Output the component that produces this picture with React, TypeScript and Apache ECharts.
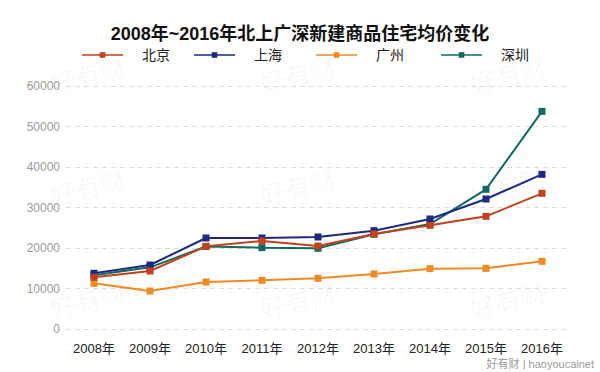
import React, { useEffect, useRef } from "react";
import * as echarts from "echarts";

const categories = ["2008年", "2009年", "2010年", "2011年", "2012年", "2013年", "2014年", "2015年", "2016年"];
const beijing = [12760, 14320, 20410, 21730, 20490, 23450, 25600, 27820, 33500];
const shanghai = [13750, 15800, 22470, 22470, 22720, 24280, 27160, 32100, 38190];
const guangzhou = [11280, 9380, 11600, 12020, 12510, 13580, 14900, 14980, 16710];
const shenzhen = [13300, 15230, 20370, 20080, 19920, 23400, 25900, 34490, 53740];
const yTicks = [0, 10000, 20000, 30000, 40000, 50000, 60000];

const names = ["北京", "上海", "广州", "深圳"];
const colors = ["#c1421b", "#1c2a80", "#f08a24", "#0f6b5f"];
const seriesData = [beijing, shanghai, guangzhou, shenzhen];
const zOrder = [4, 3, 3, 2];
const legendLeft = [76, 188, 310, 435];

const FONT = "'Liberation Sans', 'Noto Sans CJK SC', sans-serif";

export default function App() {
  const ref = useRef<HTMLDivElement>(null);
  useEffect(() => {
    const chart = echarts.init(ref.current!, null, { renderer: "svg" });
    const wmCols = [88, 298, 508];
    const wmRows = [76, 188, 302];
    const watermarks: any[] = [];
    wmRows.forEach((y) =>
      wmCols.forEach((x) => {
        watermarks.push({
          type: "text",
          x,
          y,
          rotation: 0.26,
          z: 0,
          silent: true,
          style: {
            text: "好有财",
            fontSize: 26,
            fontFamily: FONT,
            fill: "rgba(0,0,0,0.04)",
            align: "center",
            verticalAlign: "middle",
          },
        });
      })
    );
    watermarks.push({
      type: "text",
      x: 594,
      y: 364,
      style: {
        text: "好有财 | haoyoucainet",
        fontSize: 11,
        fontFamily: FONT,
        fill: "#9a9a9a",
        align: "right",
        verticalAlign: "middle",
      },
    });
    chart.setOption({
      animation: false,
      backgroundColor: "#ffffff",
      title: {
        text: "2008年~2016年北上广深新建商品住宅均价变化",
        left: "center",
        top: 20,
        textStyle: { fontSize: 18, fontWeight: "bold", color: "#111", fontFamily: FONT },
      },
      legend: names.map((n, i) => ({
        data: [n],
        left: legendLeft[i],
        top: 43,
        itemWidth: 41,
        itemHeight: 7,
        textStyle: { fontSize: 14, color: "#222", fontFamily: FONT, padding: [0, 0, 0, 14] },
        lineStyle: { opacity: 0.75, width: 2 },
      })),
      grid: { left: 66, right: 30, top: 86, bottom: 43, containLabel: false },
      xAxis: {
        type: "category",
        data: categories,
        boundaryGap: true,
        axisLine: { show: false },
        axisTick: { show: false },
        axisLabel: { color: "#222", fontSize: 13, margin: 13, fontFamily: FONT },
        splitLine: { show: false },
      },
      yAxis: {
        type: "value",
        min: yTicks[0],
        max: yTicks[yTicks.length - 1],
        interval: 10000,
        axisLine: { show: false },
        axisTick: { show: false },
        axisLabel: {
          color: "#999",
          fontSize: 12,
          margin: 6,
          fontFamily: FONT,
          formatter: (v: number) => String(v),
        },
        splitLine: { show: true, lineStyle: { color: "#dcdcdc", type: [5, 4], width: 1 } },
      },
      graphic: watermarks,
      series: names.map((n, i) => ({
        name: n,
        type: "line",
        data: seriesData[i],
        symbol: "rect",
        symbolSize: 7,
        z: zOrder[i],
        color: colors[i],
        lineStyle: { width: 2, color: colors[i] },
        itemStyle: { color: colors[i] },
      })),
    });
    return () => chart.dispose();
  }, []);
  return (
    <div
      ref={ref}
      style={{ position: "fixed", left: 0, top: 0, width: 600, height: 372, background: "#fff" }}
    />
  );
}
